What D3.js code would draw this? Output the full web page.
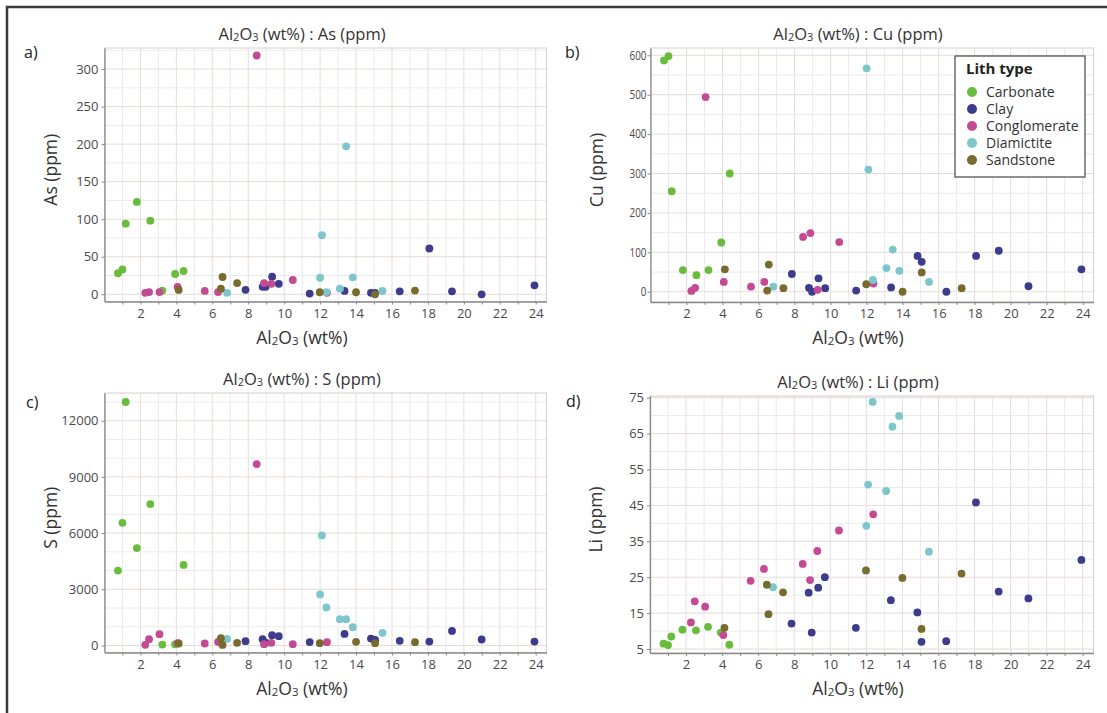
<!DOCTYPE html>
<html>
<head>
<meta charset="utf-8">
<script src="https://cdn.jsdelivr.net/npm/d3@7"></script>
<style>
	body { margin: 0; background: #fff; }
	svg { display: block; font-family: 'Open Sans', 'Noto Sans', sans-serif; }
</style>
</head>
<body>
<svg id="chart" width="1107" height="713"></svg>
<script>
// lith types and their colours
const lithTypes = ['Carbonate', 'Clay', 'Conglomerate', 'Diamictite', 'Sandstone'];
const lithColors = ['#6abd3c', '#3d3b8c', '#c44b93', '#7cc6cc', '#776b2d'];

// Carbonate samples
const carbonateAl2O3 = [0.75, 1.0, 1.18, 1.8, 2.55, 3.22, 3.93, 4.4];
const carbonateAs = [28, 33, 94, 123, 98, 5, 27, 31];
const carbonateCu = [587, 598, 255, 55, 42, 55, 125, 300];
const carbonateS = [4000, 6550, 13000, 5200, 7550, 50, 60, 4300];
const carbonateLi = [6.5, 6.1, 8.5, 10.4, 10.2, 11.2, 9.6, 6.2];

// Clay samples
const clayAl2O3 = [7.85, 8.8, 8.97, 9.33, 9.7, 11.42, 13.36, 14.83, 15.06, 16.43, 18.08, 19.34, 20.99, 23.93];
const clayAs = [6, 10, 10, 23.5, 14, 1, 4.5, 2, 2, 4, 61, 4, 0, 12];
const clayCu = [45, 10, 0, 34, 9, 3, 11, 91, 76, 0, 91, 104, 14, 57];
const clayS = [230, 340, 150, 550, 500, 180, 620, 370, 300, 250, 210, 780, 320, 210];
const clayLi = [12.1, 20.7, 9.6, 22.1, 25.0, 10.9, 18.6, 15.2, 7.0, 7.2, 45.8, 21.0, 19.1, 29.8];

// Conglomerate samples
const conglomerateAl2O3 = [2.27, 2.48, 3.06, 4.07, 5.58, 6.32, 8.47, 8.88, 9.28, 10.48, 12.38];
const conglomerateAs = [2, 3, 3, 10, 4.5, 3, 318, 15, 14, 19, 2];
const conglomerateCu = [2, 10, 494, 25, 13, 25, 139, 149, 5, 126, 21];
const conglomerateS = [35, 340, 605, 125, 107, 196, 9685, 71, 142, 71, 178];
const conglomerateLi = [12.4, 18.3, 16.8, 8.9, 24.0, 27.3, 28.7, 24.2, 32.3, 38.0, 42.5];

// Diamictite samples
const diamictiteAl2O3 = [6.82, 12.0, 12.1, 12.35, 13.1, 13.45, 13.82, 15.47];
const diamictiteAs = [2, 22, 78.6, 3, 7.5, 197, 22.6, 4.4];
const diamictiteCu = [13, 567, 310, 30, 60, 107, 53, 25];
const diamictiteS = [356, 2724, 5875, 2030, 1406, 1406, 979, 676];
const diamictiteLi = [22.2, 39.3, 50.8, 73.8, 49.0, 66.9, 69.9, 32.1];

// Sandstone samples
const sandstoneAl2O3 = [4.13, 6.48, 6.57, 7.38, 11.98, 14.0, 15.06, 17.28];
const sandstoneAs = [5.8, 7.5, 23, 15, 2.7, 2.7, 0, 5];
const sandstoneCu = [57, 3, 69, 9, 19, 0, 49, 9];
const sandstoneS = [107, 392, 30, 142, 125, 196, 125, 178];
const sandstoneLi = [10.9, 22.9, 14.7, 20.8, 26.9, 24.8, 10.6, 26.0];

const xTicks = [2, 4, 6, 8, 10, 12, 14, 16, 18, 20, 22, 24];
const asTicks = [0, 50, 100, 150, 200, 250, 300];
const cuTicks = [0, 100, 200, 300, 400, 500, 600];
const sTicks = [0, 3000, 6000, 9000, 12000];
const liTicks = [5, 15, 25, 35, 45, 55, 65, 75];

const al2o3 = [carbonateAl2O3, clayAl2O3, conglomerateAl2O3, diamictiteAl2O3, sandstoneAl2O3];

const panels = [
	{ tag: 'a)', element: 'As', values: [carbonateAs, clayAs, conglomerateAs, diamictiteAs, sandstoneAs],
		ticks: asTicks, yDomain: [-9.6, 328], grid: 25,
		left: 104.5, right: 546.5, top: 48, bottom: 301.5, cx: 302, tagX: 24, tagY: 58 },
	{ tag: 'b)', element: 'Cu', values: [carbonateCu, clayCu, conglomerateCu, diamictiteCu, sandstoneCu],
		ticks: cuTicks, yDomain: [-26, 618.5], grid: 50,
		left: 650.5, right: 1093.5, top: 48, bottom: 302, cx: 858, tagX: 565, tagY: 58, legend: true },
	{ tag: 'c)', element: 'S', values: [carbonateS, clayS, conglomerateS, diamictiteS, sandstoneS],
		ticks: sTicks, yDomain: [-374, 13480], grid: 1000,
		left: 104.5, right: 546.5, top: 393, bottom: 652.5, cx: 302, tagX: 26, tagY: 408 },
	{ tag: 'd)', element: 'Li', values: [carbonateLi, clayLi, conglomerateLi, diamictiteLi, sandstoneLi],
		ticks: liTicks, yDomain: [3.9, 75.45], grid: 5,
		left: 650, right: 1093.5, top: 396, bottom: 653, cx: 858, tagX: 566, tagY: 407 },
];

const svg = d3.select('#chart');

// outer frame (top and left edges visible)
svg.append('path')
	.attr('d', 'M7,720 V7 H1115')
	.attr('fill', 'none')
	.attr('stroke', '#3a3a3a')
	.attr('stroke-width', 2.5);

// writes "Al2O3 (wt%)" with subscripts into a text selection
function addAl2O3(text, subSize) {
	text.append('tspan').text('Al');
	text.append('tspan').attr('font-size', subSize).attr('dy', 1).text('2');
	text.append('tspan').attr('dy', -1).text('O');
	text.append('tspan').attr('font-size', subSize).attr('dy', 1).text('3');
	text.append('tspan').attr('dy', -1).text(' (wt%)');
}

function drawPanel(p) {
	const x = d3.scaleLinear().domain([0, 24.6]).range([p.left, p.right]);
	const y = d3.scaleLinear().domain(p.yDomain).range([p.bottom, p.top]);
	const g = svg.append('g');

	// grid lines
	g.selectAll('.vgrid')
		.data(d3.range(1, 25))
		.join('line')
		.attr('x1', (d) => x(d)).attr('x2', (d) => x(d))
		.attr('y1', p.top).attr('y2', p.bottom)
		.attr('stroke', (d) => (d % 2 === 0 ? '#e3dede' : '#ebebeb'))
		.attr('stroke-width', 1);

	const gridVals = d3.range(p.ticks[0], p.yDomain[1], p.grid);
	g.selectAll('.hgrid')
		.data(gridVals)
		.join('line')
		.attr('x1', p.left).attr('x2', p.right)
		.attr('y1', (d) => y(d)).attr('y2', (d) => y(d))
		.attr('stroke', (d) => (p.ticks.includes(d) ? '#e6dcd6' : '#ebebeb'))
		.attr('stroke-width', 1);

	// plot frame
	g.append('rect')
		.attr('x', p.left).attr('y', p.top)
		.attr('width', p.right - p.left).attr('height', p.bottom - p.top)
		.attr('fill', 'none')
		.attr('stroke', '#d8d0cc');

	// axes
	const xAxis = g.append('g')
		.attr('transform', `translate(0,${p.bottom})`)
		.call(d3.axisBottom(x)
			.tickValues(d3.range(1, 25))
			.tickFormat((d) => (xTicks.includes(d) ? d : ''))
			.tickSize(3)
			.tickSizeOuter(0)
			.tickPadding(4));
	const yAxis = g.append('g')
		.attr('transform', `translate(${p.left},0)`)
		.call(d3.axisLeft(y)
			.tickValues(p.ticks)
			.tickFormat(d3.format('d'))
			.tickSize(3)
			.tickSizeOuter(0)
			.tickPadding(3));
	[xAxis, yAxis].forEach((a) => {
		a.select('.domain').attr('stroke', '#8a8a8a').attr('stroke-width', 1.3);
		a.selectAll('.tick line').attr('stroke', '#8a8a8a');
		a.selectAll('.tick text')
			.attr('fill', '#4a4a4a')
			.style('font-size', '13px')
			.style('font-family', "'Open Sans', sans-serif");
	});
	if (p.element === 'Cu') {
		// the Cu axis uses narrow labels
		yAxis.selectAll('.tick text').style('font-size', '12px')
			.attr('transform', 'scale(0.82,1)').attr('x', -4 / 0.82);
	}

	// title
	const title = g.append('text')
		.attr('x', p.cx).attr('y', p.top - 8)
		.attr('text-anchor', 'middle')
		.attr('fill', '#333')
		.style('font-size', '16.5px');
	addAl2O3(title, '11px');
	title.append('tspan').text(` : ${p.element} (ppm)`);

	// x axis title
	const xt = g.append('text')
		.attr('x', p.cx).attr('y', p.bottom + 42)
		.attr('text-anchor', 'middle')
		.attr('fill', '#333')
		.style('font-size', '17.5px');
	addAl2O3(xt, '11.5px');

	// y axis title
	g.append('text')
		.attr('transform', `translate(${p.left - 48},${(p.top + p.bottom) / 2 - 5}) rotate(-90)`)
		.attr('text-anchor', 'middle')
		.attr('fill', '#333')
		.style('font-size', '17.5px')
		.text(`${p.element} (ppm)`);

	// panel tag
	g.append('text')
		.attr('x', p.tagX).attr('y', p.tagY)
		.attr('fill', '#222')
		.style('font-size', '16px')
		.text(p.tag);

	// points
	lithTypes.forEach((lith, i) => {
		g.append('g')
			.selectAll('circle')
			.data(d3.zip(al2o3[i], p.values[i]))
			.join('circle')
			.attr('cx', (d) => x(d[0]))
			.attr('cy', (d) => y(d[1]))
			.attr('r', 3.9)
			.attr('fill', lithColors[i]);
	});

	if (p.legend) drawLegend(g);
}

function drawLegend(g) {
	const lg = g.append('g').attr('transform', 'translate(955,56)');
	lg.append('rect')
		.attr('width', 130).attr('height', 121)
		.attr('fill', '#fff')
		.attr('stroke', '#555')
		.attr('stroke-width', 1.3);
	lg.append('text')
		.attr('x', 11).attr('y', 18)
		.attr('fill', '#222')
		.style('font-size', '15px')
		.style('font-weight', 'bold')
		.text('Lith type');
	const rows = lg.selectAll('.legend-row')
		.data(lithTypes)
		.join('g')
		.attr('class', 'legend-row')
		.attr('transform', (d, i) => `translate(0,${36 + i * 17})`);
	rows.append('circle')
		.attr('cx', 17).attr('cy', 0).attr('r', 5)
		.attr('fill', (d, i) => lithColors[i]);
	rows.append('text')
		.attr('x', 31).attr('y', 5)
		.attr('fill', '#333')
		.style('font-size', '14px')
		.text((d) => d);
}

panels.forEach(drawPanel);
</script>
</body>
</html>
